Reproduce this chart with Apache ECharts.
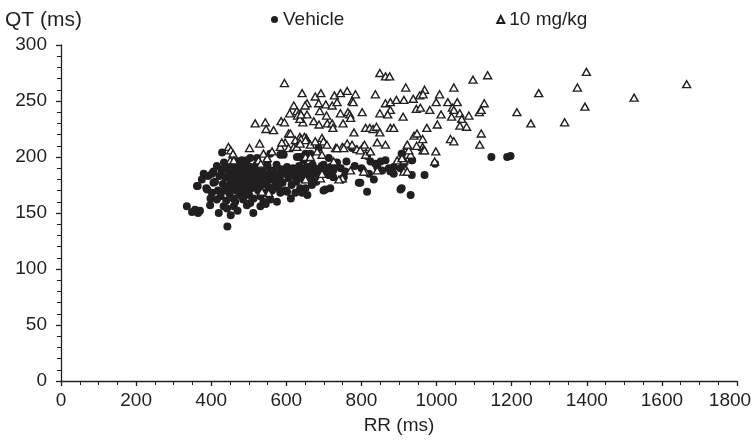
<!DOCTYPE html>
<html>
<head>
<meta charset="utf-8">
<script src="https://cdn.jsdelivr.net/npm/echarts@6/dist/echarts.min.js"></script>
<style>html,body{margin:0;padding:0;background:#fff;}#c{width:752px;height:442px;}</style>
</head>
<body>
<div id="c"></div>
<script>
const seriesNames = ['Vehicle', '10 mg/kg'];
const xTicks = [0, 200, 400, 600, 800, 1000, 1200, 1400, 1600, 1800];
const yTicks = [0, 50, 100, 150, 200, 250, 300];

// Vehicle: [RR (ms), QT (ms)]
const vehicle = [
[1146,200],[1188,200],[1197,201],[934,197],[907,203],[934,184],[968,184],[907,172],[931,166],[996,194],
[775,208],[815,201],[824,196],[837,194],[851,196],[864,197],[842,191],[855,188],[873,190],[886,191],[877,187],[886,185],[904,190],[913,194],[908,203],[935,197],
[820,185],[833,180],[797,177],[815,169],[757,187],[749,180],[904,171],[704,171],[642,168],[735,195],[713,199],[686,208],[637,200],[646,197],[655,191],[673,190],[691,190],[699,193],[695,187],[673,187],
[753,182],[793,177],[717,172],[656,166],[699,170],
[335,156],[349,151],[365,150],[357,153],[370,152],[443,138],[380,185],[364,174],[387,172],[406,177],[402,168],[415,162],[433,156],[460,156],[464,160],[482,165],[504,159],[531,156],[539,160],
[442,154],[495,157],[531,165],[553,166],[557,162],[584,168],[602,169],[624,168],[637,172],[651,172],[397,157],[406,187],[428,188],[389,171],[362,174],
[473,196],[495,197],[522,199],[549,196],[593,202],[628,200],[651,203],[482,197],[504,199],[557,203],[584,202],[664,203],[429,204],
[375,180],[392,183],[398,163],[420,150],[452,148],[470,152],[512,150],[545,158],[575,160],[612,163],[668,175],[680,178],[725,182],[745,190],[760,196],[782,192],[800,190],
[402,185],[410,178],[415,192],[418,170],[422,183],[425,165],[428,189],[431,176],[434,195],[436,170],[438,182],[440,161],[442,190],[445,174],[447,185],[449,167],[451,179],[453,193],[455,172],[457,186],[459,163],[461,177],[463,190],[465,182],[467,170],[469,196],[471,175],[473,187],[475,166],[477,180],[479,192],[481,172],[483,184],[485,162],[487,177],[489,189],[491,170],[493,195],[495,181],[497,174],[499,186],[501,166],[503,179],[505,191],[507,172],[509,184],[511,177],[513,163],[515,189],[517,181],[519,173],[521,193],[523,185],[525,170],[527,178],[529,188],[532,182],[535,175],[538,190],[541,168],[544,184],[547,178],[550,192],[553,173],[556,186],[559,180],[562,170],[565,188],[568,182],[571,176],[574,193],[577,185],[580,172],[583,180],[586,189],[590,177],[594,185],[598,170],[602,191],[606,181],[610,186],[614,175],[618,190],[622,183],[626,178],[630,188],[634,192],[638,182],[642,187],[646,180],[650,190],[655,184],[660,188],[665,181],[670,193],[676,185],[682,189],[688,183],[694,192],[700,186],[706,190],[712,184],[718,191],[725,188],[731,193]
];

// 10 mg/kg: [RR (ms), QT (ms)]
const dose10 = [
[1666,265],[1399,276],[1375,262],[1395,245],[1341,231],[1526,253],[1272,257],[1214,240],[1251,230],
[1136,273],[1097,269],[1046,262],[1008,256],[968,260],[918,262],[913,251],[938,252],[955,255],[964,256],[999,249],[1030,249],[1055,249],[1127,248],
[946,243],[957,244],[982,242],[1012,238],[1042,244],[1046,242],[1062,239],[1040,236],[1067,234],[1086,237],[1114,240],[1119,242],[911,236],
[974,226],[1002,229],[1062,228],[1080,227],[940,219],[963,216],[1037,216],[1046,214],[1119,221],[923,210],[963,209],[964,206],[1115,211],[998,205],[911,199],[916,189],[995,196],
[849,275],[864,272],[875,272],[837,256],[642,257],[677,254],[692,257],[728,255],[744,257],[762,259],[784,256],
[655,248],[686,248],[705,247],[722,246],[735,249],[775,250],[778,249],[864,248],[877,249],[893,251],
[637,239],[655,238],[689,241],[707,237],[744,239],[764,240],[769,238],[802,240],[849,239],[877,242],[870,238],
[644,231],[673,232],[687,229],[709,230],[722,230],[724,226],[751,230],[771,235],[811,226],[822,226],[831,225],[840,227],[849,222],[877,226],[886,226],[780,222],
[653,217],[695,217],
[595,266],[620,246],[650,246],[609,239],[628,241],[630,237],[636,234],[639,238],
[517,230],[544,231],[546,225],[566,224],[586,232],[595,231],[606,221],[636,218],[648,218],
[611,221],[624,215],[639,216],[651,215],[664,211],[677,214],[699,214],[708,211],[731,208],[749,209],[762,212],[775,211],[804,209],[808,211],[788,207],
[446,209],[452,206],[458,203],[451,197],[502,208],[529,212],[539,203],[562,205],[584,209],[597,213],[588,213],
[606,208],[620,209],[628,209],[637,212],[682,205],[695,202],[651,200],[664,200],[811,202],[824,205],[913,197],[931,202],[926,206],[947,210],[948,221],
[549,199],[526,197],[532,194],[460,197],
[771,188],[811,187],[842,188],[913,187],[651,180],[691,181],[695,185],[749,181],[553,168],[535,169],
[735,208],[753,208],[797,206],[842,213],[864,211],[922,211],[968,206],[895,197],[908,199],[922,187],[806,187],[740,180],[726,196]
];

const ink = '#231f20';
const font = '"Liberation Sans", Arial, Helvetica, sans-serif';
const xMax = xTicks[xTicks.length - 1];
const xLabel = v => (v === xMax ? '{last|' + v + '}' : String(v));

const chart = echarts.init(document.getElementById('c'), null, {renderer: 'canvas'});
chart.setOption({
  animation: false,
  backgroundColor: '#fff',
  textStyle: {fontFamily: font, color: ink},
  title: {
    text: 'QT (ms)', left: 0, top: 5,
    textStyle: {fontFamily: font, fontSize: 21, fontWeight: 'normal', color: ink}
  },
  legend: {
    left: 266, top: 5,
    itemWidth: 7, itemHeight: 7, itemGap: 152,
    textStyle: {fontFamily: font, fontSize: 19, color: ink},
    data: [
      {name: seriesNames[0], icon: 'circle'},
      {name: seriesNames[1], icon: 'triangle'}
    ]
  },
  grid: {left: 61, right: 15, top: 45, bottom: 61, containLabel: false, outerBoundsMode: 'none'},
  xAxis: {
    type: 'value', min: xTicks[0], max: xMax, interval: 200,
    name: 'RR (ms)', nameLocation: 'middle', nameGap: 35,
    nameTextStyle: {fontFamily: font, fontSize: 19, color: ink},
    axisLine: {lineStyle: {color: ink, width: 1.3}},
    axisTick: {show: true, length: 5, lineStyle: {color: ink, width: 1.3}},
    minorTick: {show: true, splitNumber: 4, length: 4, lineStyle: {color: ink, width: 1}},
    splitLine: {show: false},
    axisLabel: {
      fontFamily: font, fontSize: 19, color: ink, margin: 10, formatter: xLabel,
      rich: {last: {fontFamily: font, fontSize: 19, color: ink, padding: [0, 14, 0, 0]}}
    }
  },
  yAxis: {
    type: 'value', min: yTicks[0], max: yTicks[yTicks.length - 1], interval: 50,
    axisLine: {show: true, lineStyle: {color: ink, width: 1.3}},
    axisTick: {show: true, length: 5, lineStyle: {color: ink, width: 1.3}},
    minorTick: {show: true, splitNumber: 5, length: 4, lineStyle: {color: ink, width: 1}},
    splitLine: {show: false},
    axisLabel: {fontFamily: font, fontSize: 19, color: ink, margin: 14, formatter: v => String(v)}
  },
  series: [
    {
      name: seriesNames[0], type: 'scatter', data: vehicle,
      symbol: 'circle', symbolSize: 8,
      itemStyle: {color: ink, opacity: 1}
    },
    {
      name: seriesNames[1], type: 'scatter', data: dose10,
      symbol: 'triangle', symbolSize: [8, 7],
      itemStyle: {color: '#ffffff', borderColor: ink, borderWidth: 1.4, opacity: 1}
    }
  ]
});
</script>
</body>
</html>
